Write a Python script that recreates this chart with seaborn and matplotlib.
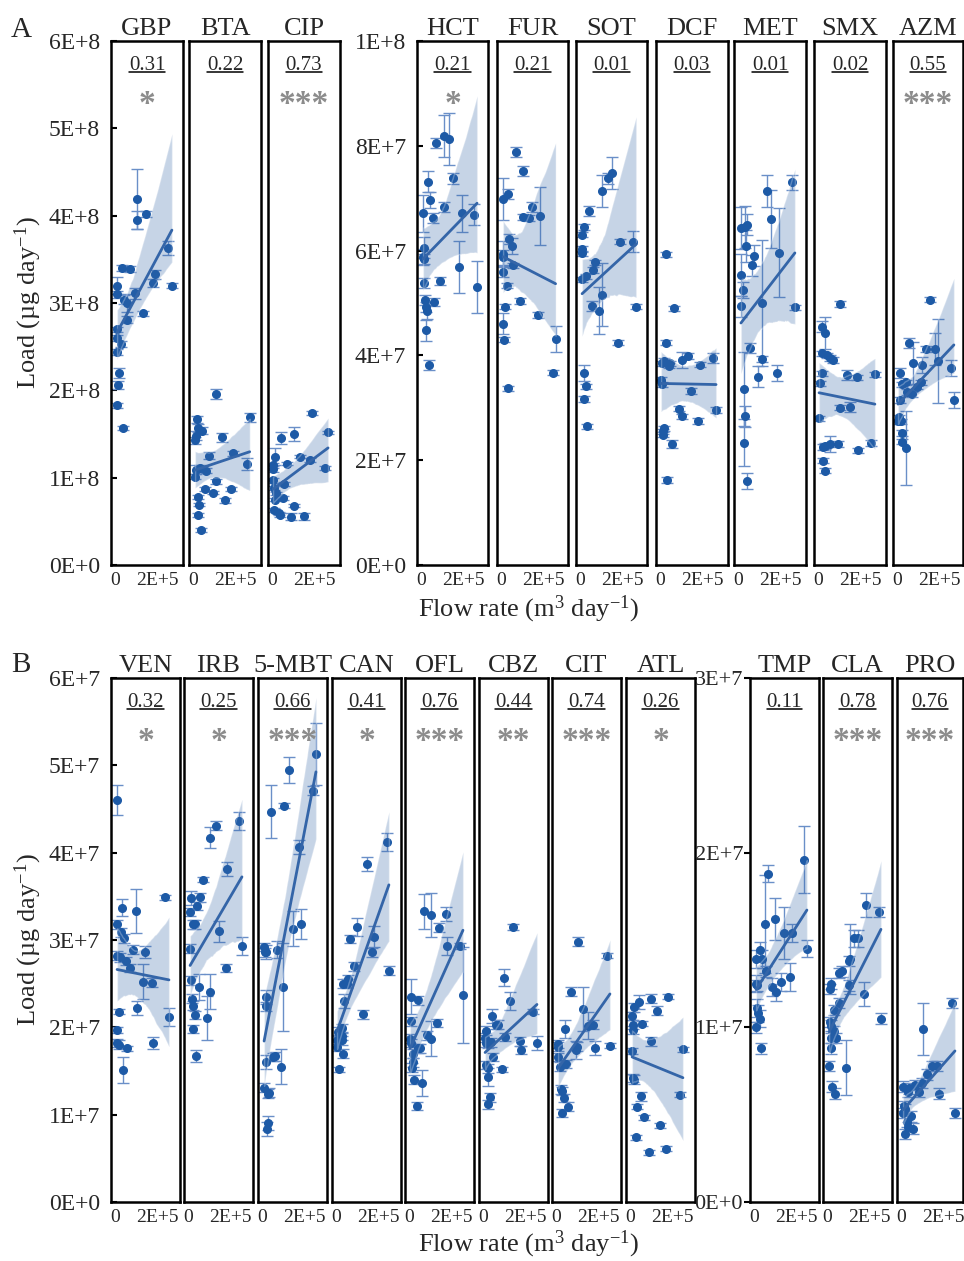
import numpy as np
import matplotlib
matplotlib.use('Agg')
import matplotlib.pyplot as plt
from matplotlib.collections import PolyCollection
from matplotlib.lines import Line2D
import seaborn as sns

sns.set_theme(style='white')
plt.rcParams['font.family'] = ['Liberation Serif', 'DejaVu Serif']
plt.rcParams['mathtext.fontset'] = 'custom'
plt.rcParams['mathtext.rm'] = 'Liberation Serif'
plt.rcParams['mathtext.it'] = 'Liberation Serif:italic'

# ---- data: x in 1E+5 m3/day, y in panel units (1E+8 or 1E+7 ug/day), e = SD ----
GBP_x = [1.05, 1.05, 1.5, 2.54, 1.92, 1.82, 2.71, 0.33, 0.72, 0.1, 0.1, 0.43, 0.57, 0.95, 1.33, 0.57, 0.1, 0.1, 0.29, 0.1, 0.19, 0.15, 0.1, 0.38]
GBP_y = [4.19, 3.95, 4.02, 3.63, 3.33, 3.23, 3.2, 3.4, 3.39, 3.2, 3.1, 3.04, 3.0, 3.11, 2.88, 2.81, 2.7, 2.6, 2.53, 2.44, 2.2, 2.06, 1.83, 1.57]
GBP_e = [0.34, 0.1, 0.03, 0.08, 0.05, 0.05, 0.03, 0.03, 0.03, 0.1, 0.04, 0.05, 0.1, 0.06, 0.03, 0.04, 0.03, 0.03, 0.03, 0.03, 0.06, 0.05, 0.03, 0.02]

BTA_x = [1.1, 2.7, 0.2, 0.24, 0.45, 0.14, 0.1, 1.37, 0.75, 1.9, 2.57, 0.33, 0.14, 0.6, 0.1, 1.1, 0.24, 0.55, 0.93, 1.8, 1.54, 0.29, 0.24, 0.4]
BTA_y = [1.96, 1.69, 1.67, 1.57, 1.54, 1.48, 1.43, 1.46, 1.25, 1.28, 1.16, 1.11, 1.09, 1.08, 1.01, 0.96, 0.78, 0.87, 0.83, 0.87, 0.74, 0.69, 0.57, 0.4]
BTA_e = [0.06, 0.05, 0.04, 0.05, 0.04, 0.05, 0.04, 0.05, 0.04, 0.03, 0.07, 0.04, 0.05, 0.03, 0.03, 0.03, 0.02, 0.02, 0.02, 0.02, 0.03, 0.02, 0.02, 0.02]

CIP_x = [1.9, 2.67, 1.05, 0.43, 0.14, 1.33, 0.71, 0.05, 0.05, 1.81, 2.52, 0.05, 0.57, 0.1, 0.19, 0.52, 0.1, 0.33, 0.38, 0.9, 1.05, 1.52, 0.15]
CIP_y = [1.74, 1.52, 1.5, 1.45, 1.24, 1.24, 1.16, 1.14, 1.1, 1.2, 1.11, 0.97, 0.93, 0.88, 0.82, 0.77, 0.63, 0.59, 0.57, 0.55, 0.68, 0.56, 0.75]
CIP_e = [0.02, 0.02, 0.08, 0.07, 0.1, 0.02, 0.02, 0.03, 0.03, 0.02, 0.02, 0.03, 0.02, 0.02, 0.02, 0.02, 0.02, 0.02, 0.02, 0.04, 0.02, 0.04, 0.02]

HCT_x = [1.1, 1.33, 0.71, 1.52, 0.33, 0.43, 0.1, 0.57, 1.1, 1.95, 2.52, 0.14, 0.1, 0.14, 1.81, 2.67, 0.9, 0.14, 0.19, 0.62, 0.24, 0.29, 0.24, 0.38]
HCT_y = [8.19, 8.13, 8.05, 7.38, 7.31, 6.97, 6.71, 6.62, 6.83, 6.71, 6.68, 6.05, 5.88, 5.84, 5.69, 5.3, 5.42, 5.38, 5.06, 5.02, 4.92, 4.85, 4.48, 3.82]
HCT_e = [0.4, 0.5, 0.1, 0.1, 0.2, 0.15, 0.35, 0.1, 0.1, 0.35, 0.2, 0.2, 0.15, 0.1, 0.5, 0.5, 0.08, 0.1, 0.1, 0.08, 0.1, 0.15, 0.2, 0.1]

FUR_x = [0.71, 1.05, 0.33, 0.1, 1.48, 1.05, 1.33, 1.86, 0.38, 0.52, 0.1, 0.1, 0.57, 0.1, 0.29, 0.19, 0.9, 1.76, 0.1, 0.14, 2.6, 2.48, 0.33]
FUR_y = [7.88, 7.52, 7.08, 6.98, 6.83, 6.64, 6.62, 6.66, 6.22, 6.09, 5.94, 5.87, 5.72, 5.6, 5.33, 4.93, 5.04, 4.77, 4.6, 4.3, 4.32, 3.67, 3.37]
FUR_e = [0.1, 0.1, 0.1, 0.4, 0.1, 0.05, 0.05, 0.55, 0.1, 0.15, 0.25, 0.15, 0.05, 0.1, 0.05, 0.05, 0.05, 0.05, 0.2, 0.05, 0.25, 0.05, 0.05]

SOT_x = [1.52, 1.33, 1.05, 0.43, 0.19, 0.1, 0.1, 0.1, 0.71, 0.62, 0.29, 0.1, 1.9, 2.52, 1.05, 0.57, 0.9, 2.67, 1.81, 0.19, 0.29, 0.19, 0.33]
SOT_y = [7.48, 7.38, 7.14, 6.76, 6.45, 6.3, 6.03, 5.95, 5.78, 5.63, 5.51, 5.45, 6.17, 6.17, 5.16, 4.94, 4.85, 4.93, 4.24, 3.66, 3.41, 3.17, 2.65]
SOT_e = [0.3, 0.1, 0.3, 0.1, 0.05, 0.05, 0.05, 0.05, 0.05, 0.05, 0.05, 0.05, 0.05, 0.2, 0.6, 0.1, 0.45, 0.05, 0.05, 0.15, 0.05, 0.05, 0.05]

DCF_x = [0.29, 0.67, 0.29, 0.19, 0.1, 0.48, 0.43, 1.05, 1.33, 1.9, 2.52, 0.05, 0.1, 1.48, 0.9, 1.05, 1.81, 2.67, 0.19, 0.14, 0.14, 0.57, 0.33]
DCF_y = [5.93, 4.9, 4.24, 3.9, 3.85, 3.85, 3.8, 3.91, 3.99, 3.82, 3.95, 3.53, 3.45, 3.32, 2.98, 2.84, 2.75, 2.96, 2.61, 2.55, 2.49, 2.31, 1.62]
DCF_e = [0.05, 0.05, 0.05, 0.05, 0.05, 0.05, 0.05, 0.15, 0.05, 0.05, 0.1, 0.05, 0.05, 0.05, 0.05, 0.05, 0.05, 0.05, 0.05, 0.05, 0.05, 0.08, 0.05]

MET_x = [2.57, 1.38, 1.57, 0.43, 0.33, 0.14, 0.38, 0.76, 0.67, 1.95, 0.14, 0.24, 0.14, 1.14, 2.71, 0.57, 1.14, 0.95, 1.86, 0.29, 0.33, 0.29, 0.43]
MET_y = [7.3, 7.14, 6.6, 6.49, 6.45, 6.43, 6.09, 5.9, 5.72, 5.96, 5.53, 5.25, 4.94, 5.0, 4.92, 4.14, 3.93, 3.59, 3.66, 3.36, 2.84, 2.33, 1.6]
MET_e = [0.15, 0.3, 0.55, 0.2, 0.4, 0.4, 0.3, 0.2, 0.2, 0.85, 0.4, 0.15, 0.2, 1.2, 0.05, 0.1, 0.05, 0.2, 0.15, 0.7, 0.2, 0.45, 0.15]

SMX_x = [1.05, 0.19, 0.33, 0.19, 0.43, 0.57, 0.71, 0.19, 1.38, 1.86, 2.71, 0.1, 1.05, 1.52, 0.05, 0.24, 0.33, 0.57, 0.95, 1.9, 2.52, 0.24, 0.33]
SMX_y = [4.98, 4.55, 4.43, 4.04, 4.0, 3.95, 3.91, 3.66, 3.63, 3.58, 3.64, 3.47, 3.0, 3.02, 2.8, 2.25, 2.27, 2.31, 2.31, 2.19, 2.33, 1.99, 1.8]
SMX_e = [0.05, 0.1, 0.3, 0.05, 0.05, 0.05, 0.05, 0.05, 0.1, 0.05, 0.05, 0.05, 0.05, 0.1, 0.05, 0.05, 0.05, 0.15, 0.05, 0.05, 0.05, 0.05, 0.05]

AZM_x = [1.57, 0.57, 1.38, 1.81, 1.95, 2.57, 2.71, 0.76, 1.19, 0.14, 0.43, 0.24, 1.14, 0.48, 0.71, 0.95, 0.14, 0.1, 0.05, 0.19, 0.24, 0.24, 0.43]
AZM_y = [5.06, 4.24, 4.12, 4.12, 3.9, 3.76, 3.15, 3.85, 3.82, 3.66, 3.49, 3.45, 3.49, 3.3, 3.26, 3.4, 3.15, 2.82, 2.74, 2.74, 2.52, 2.35, 2.23]
AZM_e = [0.05, 0.1, 0.05, 0.3, 0.8, 0.15, 0.15, 0.4, 0.15, 0.1, 0.05, 0.05, 0.05, 0.05, 0.05, 0.05, 0.05, 0.05, 0.05, 0.05, 0.05, 0.05, 0.7]

VEN_x = [0.1, 0.33, 1.0, 0.1, 0.29, 0.43, 2.38, 1.43, 0.86, 0.1, 0.24, 0.52, 0.71, 1.33, 1.76, 0.19, 1.05, 0.1, 0.1, 0.19, 0.57, 1.81, 2.57, 0.38]
VEN_y = [4.6, 3.37, 3.33, 3.18, 3.09, 3.02, 3.49, 2.86, 2.89, 2.82, 2.8, 2.76, 2.68, 2.52, 2.51, 2.18, 2.22, 1.97, 1.82, 1.8, 1.76, 1.82, 2.12, 1.51]
VEN_e = [0.17, 0.1, 0.25, 0.05, 0.05, 0.05, 0.03, 0.07, 0.05, 0.05, 0.05, 0.05, 0.05, 0.2, 0.05, 0.03, 0.08, 0.03, 0.05, 0.05, 0.03, 0.07, 0.1, 0.15]

IRB_x = [2.43, 1.33, 1.05, 1.86, 0.71, 0.14, 0.57, 0.43, 0.1, 0.24, 0.33, 1.48, 2.57, 0.1, 0.14, 0.52, 1.05, 0.2, 0.24, 0.33, 0.9, 0.24, 0.38, 1.81]
IRB_y = [4.36, 4.31, 4.17, 3.81, 3.69, 3.48, 3.49, 3.39, 3.32, 3.18, 3.18, 3.1, 2.93, 2.9, 2.54, 2.46, 2.41, 2.33, 2.25, 2.14, 2.11, 1.98, 1.67, 2.68]
IRB_e = [0.1, 0.05, 0.12, 0.08, 0.03, 0.08, 0.05, 0.05, 0.05, 0.05, 0.05, 0.12, 0.1, 0.05, 0.05, 0.15, 0.2, 0.05, 0.05, 0.05, 0.25, 0.05, 0.07, 0.05]

MBT_x = [2.57, 1.29, 2.43, 1.05, 0.43, 1.76, 1.86, 1.48, 0.1, 0.14, 0.71, 0.19, 1.0, 0.19, 0.19, 0.19, 0.52, 0.62, 0.9, 0.1, 0.33, 0.29, 0.29, 0.24]
MBT_y = [5.13, 4.95, 4.71, 4.54, 4.47, 4.06, 3.18, 3.13, 2.92, 2.86, 2.89, 2.86, 2.46, 2.35, 2.24, 1.6, 1.66, 1.67, 1.55, 1.31, 1.25, 1.24, 0.91, 0.84]
MBT_e = [0.35, 0.15, 0.05, 0.03, 0.3, 0.08, 0.17, 0.2, 0.05, 0.05, 0.1, 0.08, 0.5, 0.08, 0.05, 0.08, 0.05, 0.05, 0.2, 0.05, 0.05, 0.05, 0.08, 0.08]

CAN_x = [2.43, 1.48, 1.0, 0.67, 1.81, 1.71, 0.86, 0.57, 0.52, 0.33, 0.38, 1.29, 2.52, 0.29, 0.1, 0.29, 0.05, 0.29, 0.05, 0.33, 0.14]
CAN_y = [4.12, 3.87, 3.15, 3.01, 3.04, 2.86, 2.7, 2.55, 2.5, 2.5, 2.3, 2.15, 2.65, 1.99, 1.95, 1.9, 1.86, 1.85, 1.78, 1.7, 1.52]
CAN_e = [0.1, 0.08, 0.1, 0.05, 0.12, 0.05, 0.05, 0.05, 0.05, 0.05, 0.08, 0.05, 0.05, 0.05, 0.05, 0.05, 0.05, 0.05, 0.05, 0.05, 0.03]

OFL_x = [0.71, 1.05, 1.76, 1.43, 1.81, 2.43, 2.57, 0.1, 0.43, 0.1, 1.33, 0.05, 0.1, 0.86, 1.05, 0.43, 0.52, 0.19, 0.19, 0.14, 0.24, 0.62, 0.38]
OFL_y = [3.33, 3.29, 3.3, 3.14, 2.93, 2.93, 2.37, 2.35, 2.31, 2.07, 2.05, 1.87, 1.82, 1.91, 1.87, 1.76, 1.76, 1.7, 1.6, 1.54, 1.4, 1.36, 1.1]
OFL_e = [0.2, 0.25, 0.08, 0.05, 0.1, 0.03, 0.55, 0.2, 0.05, 0.05, 0.05, 0.05, 0.05, 0.05, 0.2, 0.05, 0.05, 0.05, 0.05, 0.05, 0.05, 0.15, 0.05]

CBZ_x = [1.43, 2.38, 1.0, 1.29, 0.43, 0.62, 0.71, 0.14, 0.1, 0.38, 0.14, 0.24, 1.76, 1.81, 2.57, 1.05, 0.48, 0.14, 0.24, 0.9, 0.24, 0.33, 0.24]
CBZ_y = [3.15, 2.18, 2.57, 2.3, 2.13, 2.03, 2.03, 1.96, 1.88, 1.83, 1.82, 1.81, 1.84, 1.74, 1.82, 1.89, 1.66, 1.57, 1.53, 1.52, 1.43, 1.2, 1.12]
CBZ_e = [0.03, 0.03, 0.1, 0.1, 0.08, 0.05, 0.05, 0.05, 0.05, 0.05, 0.05, 0.05, 0.05, 0.05, 0.08, 0.05, 0.05, 0.05, 0.05, 0.03, 0.1, 0.05, 0.05]

CIT_x = [1.05, 2.43, 0.71, 1.29, 0.43, 1.52, 1.76, 0.1, 0.1, 1.0, 1.86, 2.57, 0.1, 0.19, 0.48, 0.95, 0.24, 0.29, 0.38, 0.57, 0.29]
CIT_y = [2.98, 2.82, 2.41, 2.21, 1.98, 2.02, 2.03, 1.81, 1.78, 1.78, 1.76, 1.79, 1.66, 1.55, 1.58, 1.74, 1.29, 1.27, 1.19, 1.09, 1.02]
CIT_e = [0.05, 0.03, 0.05, 0.25, 0.1, 0.15, 0.05, 0.05, 0.05, 0.05, 0.08, 0.03, 0.05, 0.05, 0.05, 0.1, 0.05, 0.05, 0.05, 0.05, 0.05]

ATL_x = [1.81, 1.0, 0.43, 0.19, 1.29, 0.1, 0.14, 0.57, 0.14, 1.0, 0.1, 2.52, 0.14, 0.19, 0.52, 2.38, 0.33, 0.67, 1.43, 0.29, 1.71, 0.9]
ATL_y = [2.35, 2.33, 2.29, 2.23, 2.19, 2.13, 2.03, 2.04, 1.97, 1.84, 1.73, 1.75, 1.42, 1.4, 1.21, 1.23, 1.09, 0.97, 0.88, 0.74, 0.61, 0.57]
ATL_e = [0.03, 0.05, 0.08, 0.05, 0.05, 0.05, 0.05, 0.03, 0.05, 0.05, 0.03, 0.03, 0.05, 0.05, 0.05, 0.03, 0.03, 0.03, 0.03, 0.03, 0.03, 0.03]

TMP_x = [2.38, 0.67, 0.52, 1.0, 1.43, 1.81, 0.29, 2.52, 0.1, 0.38, 0.57, 0.1, 0.14, 0.86, 1.05, 1.29, 1.71, 0.14, 0.19, 0.29, 0.1, 0.33]
TMP_y = [1.96, 1.88, 1.59, 1.62, 1.54, 1.54, 1.44, 1.45, 1.39, 1.39, 1.32, 1.25, 1.24, 1.23, 1.2, 1.26, 1.29, 1.11, 1.08, 1.05, 1.0, 0.88]
TMP_e = [0.19, 0.05, 0.28, 0.12, 0.15, 0.05, 0.05, 0.05, 0.05, 0.05, 0.03, 0.05, 0.03, 0.05, 0.05, 0.05, 0.08, 0.05, 0.05, 0.05, 0.03, 0.03]

CLA_x = [1.86, 2.48, 1.29, 1.48, 1.1, 1.05, 0.71, 0.57, 1.05, 0.19, 0.14, 1.76, 0.57, 0.33, 2.57, 0.14, 0.19, 0.33, 0.19, 0.43, 0.19, 0.1, 0.9, 0.24, 0.38]
CLA_y = [1.7, 1.66, 1.51, 1.51, 1.39, 1.38, 1.32, 1.31, 1.24, 1.25, 1.22, 1.19, 1.14, 1.1, 1.05, 1.03, 1.01, 0.98, 0.94, 0.94, 0.88, 0.78, 0.77, 0.66, 0.62]
CLA_e = [0.07, 0.03, 0.05, 0.05, 0.2, 0.03, 0.03, 0.03, 0.03, 0.03, 0.03, 0.07, 0.03, 0.03, 0.03, 0.03, 0.03, 0.03, 0.03, 0.03, 0.03, 0.03, 0.16, 0.03, 0.03]

PRO_x = [2.43, 1.05, 2.57, 1.81, 1.48, 1.71, 1.24, 1.0, 0.67, 0.86, 0.1, 0.38, 0.33, 0.14, 0.19, 0.1, 0.48, 0.29, 0.57, 0.19, 0.33]
PRO_y = [1.14, 0.99, 0.51, 0.62, 0.78, 0.78, 0.73, 0.68, 0.67, 0.63, 0.66, 0.65, 0.63, 0.55, 0.53, 0.51, 0.49, 0.46, 0.42, 0.39, 0.43]
PRO_e = [0.03, 0.15, 0.03, 0.03, 0.03, 0.03, 0.03, 0.03, 0.03, 0.03, 0.03, 0.03, 0.03, 0.03, 0.03, 0.03, 0.03, 0.03, 0.03, 0.03, 0.03]

A_names = ['GBP', 'BTA', 'CIP', 'HCT', 'FUR', 'SOT', 'DCF', 'MET', 'SMX', 'AZM']
A_r2 = ['0.31', '0.22', '0.73', '0.21', '0.21', '0.01', '0.03', '0.01', '0.02', '0.55']
A_sig = ['*', '', '***', '*', '', '', '', '', '', '***']
B_names = ['VEN', 'IRB', '5-MBT', 'CAN', 'OFL', 'CBZ', 'CIT', 'ATL', 'TMP', 'CLA', 'PRO']
B_r2 = ['0.32', '0.25', '0.66', '0.41', '0.76', '0.44', '0.74', '0.26', '0.11', '0.78', '0.76']
B_sig = ['*', '*', '***', '*', '***', '**', '***', '*', '', '***', '***']

A_data = [(GBP_x, GBP_y, GBP_e), (BTA_x, BTA_y, BTA_e), (CIP_x, CIP_y, CIP_e),
          (HCT_x, HCT_y, HCT_e), (FUR_x, FUR_y, FUR_e), (SOT_x, SOT_y, SOT_e),
          (DCF_x, DCF_y, DCF_e), (MET_x, MET_y, MET_e), (SMX_x, SMX_y, SMX_e),
          (AZM_x, AZM_y, AZM_e)]
B_data = [(VEN_x, VEN_y, VEN_e), (IRB_x, IRB_y, IRB_e), (MBT_x, MBT_y, MBT_e),
          (CAN_x, CAN_y, CAN_e), (OFL_x, OFL_y, OFL_e), (CBZ_x, CBZ_y, CBZ_e),
          (CIT_x, CIT_y, CIT_e), (ATL_x, ATL_y, ATL_e), (TMP_x, TMP_y, TMP_e),
          (CLA_x, CLA_y, CLA_e), (PRO_x, PRO_y, PRO_e)]

# ---- layout (pixels) ----
W, H = 964, 1261
A_left = [111, 189, 268, 417, 497, 576, 656, 734, 814, 893]
A_width = [72, 72, 72, 71, 71, 71, 72, 72, 72, 70]
A_group = [0, 0, 0, 1, 1, 1, 1, 1, 1, 1]
B_left = [111, 184, 258, 332, 405, 479, 552, 626, 750, 823, 897]
B_width = [69, 69, 69, 69, 69, 69, 69, 69, 69, 69, 66]
B_group = [0, 0, 0, 0, 0, 0, 0, 0, 1, 1, 1]

PT = '#1d5aa6'
EB = '#6a8fc8'
LN = '#3465a8'
STAR = '#8c8c8c'

fig = plt.figure(figsize=(W / 100, H / 100), dpi=100)
fig.patch.set_facecolor('white')
r2_texts = []


def sci(v):
    if v == 0:
        return '0E+0'
    e = int(np.floor(np.log10(v) + 1e-9))
    return f'{int(round(v / 10 ** e))}E+{e}'


def add_ax(left, top, width, height):
    return fig.add_axes([left / W, 1 - (top + height) / H, width / W, height / H])


def draw_panel(ax, x, y, e, unit, ylim, yticks, xmax, first, tick_dir, ytick_size,
               name, r2, sig):
    xs = np.array(x) * 1e5
    ys = np.array(y) * unit
    es = np.array(e) * unit
    ax.errorbar(xs, ys, yerr=es, fmt='o', ms=5.5, color=PT,
                ecolor=EB, elinewidth=1, capsize=4, capthick=1, zorder=0.8)
    sns.regplot(x=xs, y=ys, ax=ax, scatter=False, ci=95, n_boot=1000, seed=3,
                color=LN, line_kws={'lw': 2, 'zorder': 2})
    for c in ax.collections:
        if isinstance(c, PolyCollection):
            c.set_alpha(0.28)
            c.set_zorder(1)
    ax.set_xlim(-0.19e5, xmax)
    ax.set_ylim(*ylim)
    ax.set_xticks([0, 2e5])
    ax.set_xticklabels(['0', '2E+5'], fontsize=14)
    ax.tick_params(axis='x', length=0, pad=5)
    ax.set_yticks(yticks)
    if first:
        ax.set_yticklabels([sci(t) for t in yticks], fontsize=ytick_size)
        ax.tick_params(axis='y', direction=tick_dir, length=4, width=1.5,
                       pad=8 if tick_dir == 'in' else 1, left=True, color='black')
    else:
        ax.set_yticklabels([])
        ax.tick_params(axis='y', length=0)
    for s in ax.spines.values():
        s.set_color('black')
        s.set_linewidth(1.8)
    ax.set_xlabel('')
    ax.set_ylabel('')
    ax.set_title(name, fontsize=19, pad=4)
    t = ax.text(0.5, 1 - 29 / 524, r2, transform=ax.transAxes,
                ha='center', va='baseline', fontsize=15)
    r2_texts.append((ax, t))
    if sig:
        ax.text(0.5, 0.878, sig, transform=ax.transAxes, ha='center', va='center',
                fontsize=24, fontweight='bold', color=STAR)


# row A
A_ylims = [(0, 6e8), (0, 1e8)]
A_yticks = [[0, 1e8, 2e8, 3e8, 4e8, 5e8, 6e8], [0, 2e7, 4e7, 6e7, 8e7, 1e8]]
A_units = [1e8, 1e7]
for i, name in enumerate(A_names):
    g = A_group[i]
    ax = add_ax(A_left[i], 41, A_width[i], 524)
    first = i == 0 or A_group[i - 1] != g
    x, y, e = A_data[i]
    draw_panel(ax, x, y, e, A_units[g], A_ylims[g], A_yticks[g],
               -0.19e5 + A_width[i] / 21 * 1e5, first, 'in', 17,
               name, A_r2[i], A_sig[i])

# row B
B_ylims = [(0, 6e7), (0, 3e7)]
B_yticks = [[0, 1e7, 2e7, 3e7, 4e7, 5e7, 6e7], [0, 1e7, 2e7, 3e7]]
B_dirs = ['in', 'out']
B_sizes = [17, 16]
for i, name in enumerate(B_names):
    g = B_group[i]
    ax = add_ax(B_left[i], 678, B_width[i], 524)
    first = i == 0 or B_group[i - 1] != g
    x, y, e = B_data[i]
    draw_panel(ax, x, y, e, 1e7, B_ylims[g], B_yticks[g],
               -0.19e5 + B_width[i] / 21 * 1e5, first, B_dirs[g], B_sizes[g],
               name, B_r2[i], B_sig[i])

# underline the R2 values
fig.canvas.draw()
renderer = fig.canvas.get_renderer()
for ax, t in r2_texts:
    bb = t.get_window_extent(renderer)
    p0 = ax.transAxes.inverted().transform((bb.x0, 0))[0]
    p1 = ax.transAxes.inverted().transform((bb.x1, 0))[0]
    yl = 1 - 31.5 / 524
    ax.add_line(Line2D([p0, p1], [yl, yl], transform=ax.transAxes,
                       color='black', lw=1.1, clip_on=False))

ylab = 'Load (µg day$^{\\mathrm{-1}}$)'
xlab = 'Flow rate (m$^{\\mathrm{3}}$ day$^{\\mathrm{-1}}$)'
fig.text(28 / W, 1 - 303 / H, ylab, rotation=90, ha='center', va='center', fontsize=19)
fig.text(28 / W, 1 - 940 / H, ylab, rotation=90, ha='center', va='center', fontsize=19)
fig.text(529 / W, 1 - 609 / H, xlab, ha='center', va='center', fontsize=19)
fig.text(529 / W, 1 - 1244 / H, xlab, ha='center', va='center', fontsize=19)
fig.text(21 / W, 1 - 30 / H, 'A', ha='center', va='center', fontsize=21)
fig.text(21 / W, 1 - 665 / H, 'B', ha='center', va='center', fontsize=21)

fig.savefig('out.png', dpi=100, facecolor='white')
